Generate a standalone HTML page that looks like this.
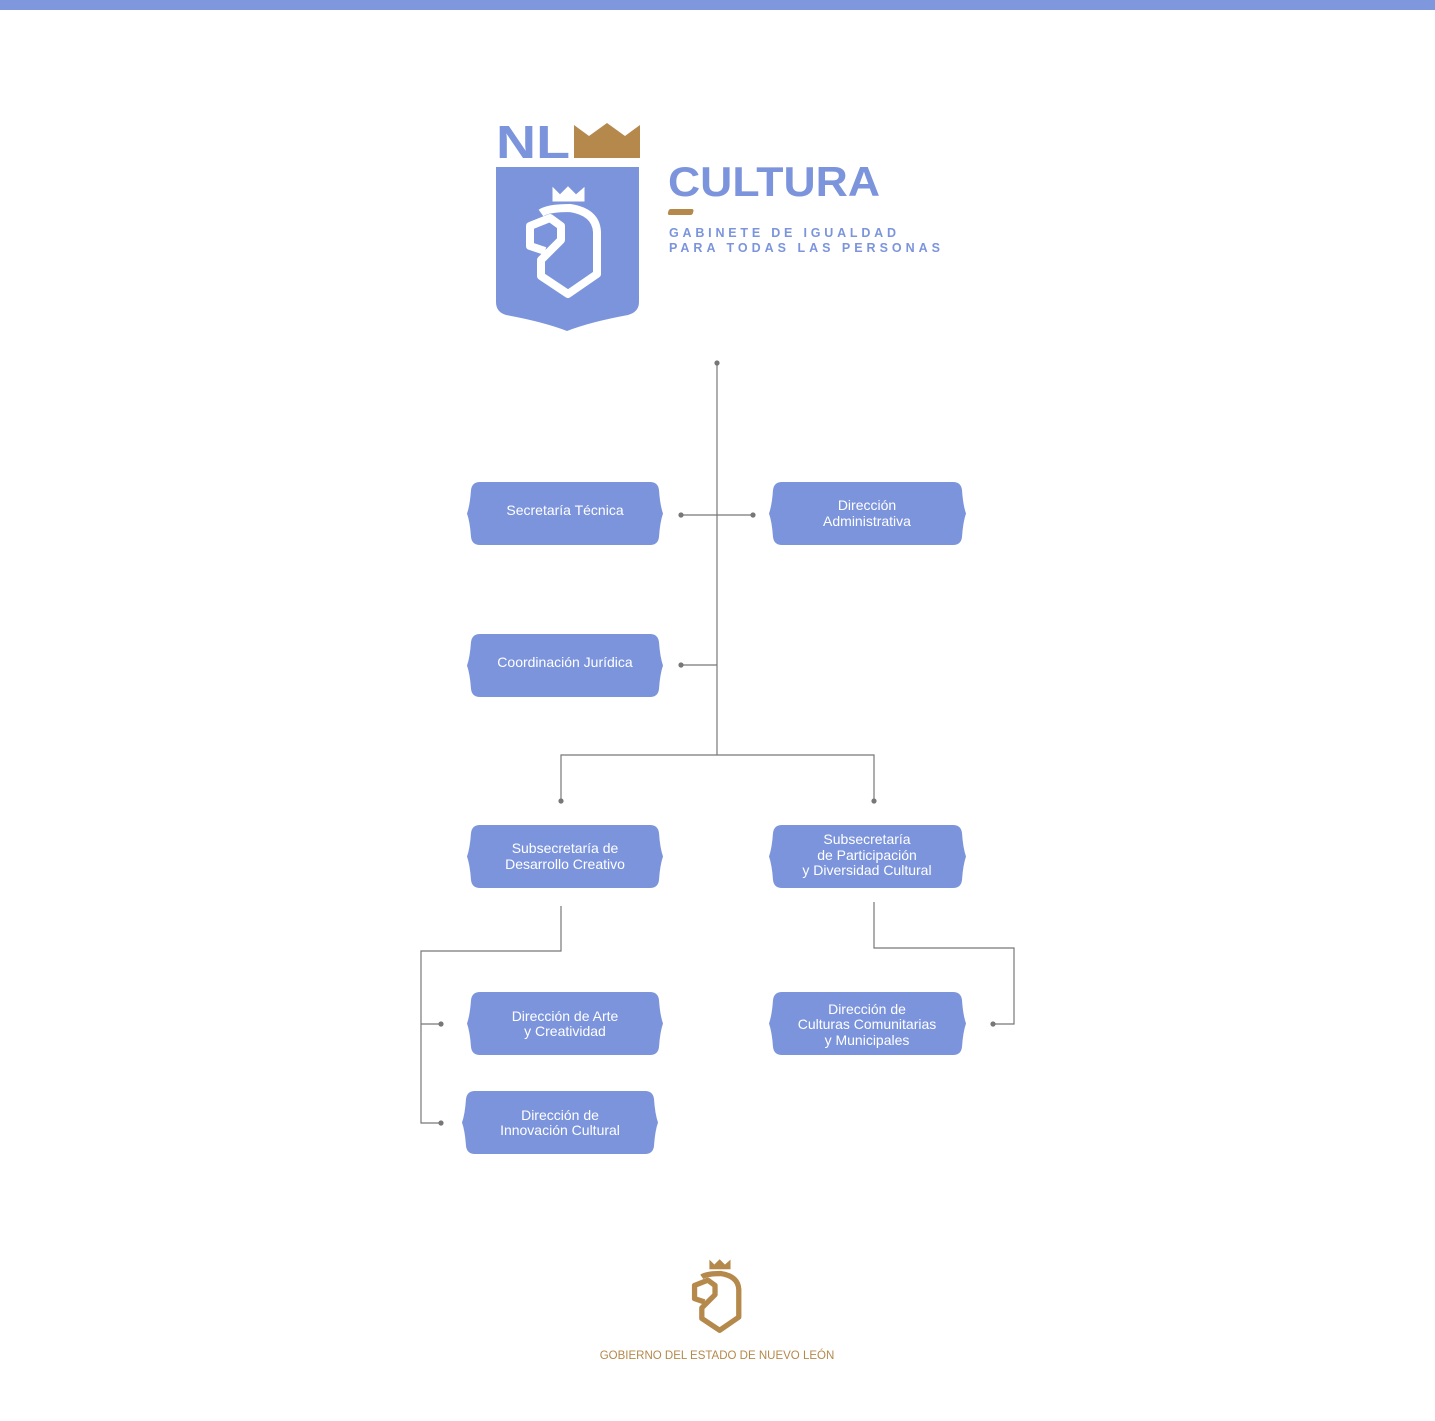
<!DOCTYPE html>
<html><head><meta charset="utf-8"><style>
html,body{margin:0;padding:0;background:#fff}
body{width:1435px;height:1416px;overflow:hidden;font-family:"Liberation Sans",sans-serif}
</style></head><body>
<svg width="1435" height="1416" viewBox="0 0 1435 1416" xmlns="http://www.w3.org/2000/svg">
<defs>
<g id="lion">
<path d="M553,188 L553,201 L584,201 L584,188 L576,195 L568,187 L560,195 Z" />
<path d="M541,213 Q548,208 570,208 Q596,212 597,232 L597,274 L568,294 L541,276 L541,260 L561,240 L561,226 L550,218 L530,226 L530,246 L545,251" fill="none" stroke-width="8" stroke-linejoin="round"/>
</g>
</defs>
<rect x="0" y="0" width="1435" height="10" fill="#7f98dd"/>
<!-- logo -->
<text x="496" y="158" font-family="Liberation Sans, sans-serif" font-weight="bold" font-size="46" fill="#7b94dc" textLength="74" lengthAdjust="spacingAndGlyphs">NL</text>
<path d="M574,158 L574,125 L589,136 L607,123 L625,136 L640,125 L640,158 Z" fill="#b5884b"/>
<path d="M496,167 L639,167 L639,302 Q639,312 628,315 Q590,322 567,331 Q544,322 506,315 Q496,312 496,302 Z" fill="#7b94dc"/>
<g fill="#fff" stroke="#fff"><use href="#lion"/></g>
<text x="668" y="196" font-weight="bold" font-size="42" fill="#7b94dc" textLength="212" lengthAdjust="spacingAndGlyphs">CULTURA</text>
<rect x="669" y="209" width="25" height="6" rx="2" fill="#b5884b" transform="skewX(-15) translate(56,0)"/>
<text x="669" y="237" font-weight="bold" font-size="12.5" fill="#7b94dc" textLength="227" lengthAdjust="spacing">GABINETE DE IGUALDAD</text>
<text x="669" y="252" font-weight="bold" font-size="12.5" fill="#7b94dc" textLength="271" lengthAdjust="spacing">PARA TODAS LAS PERSONAS</text>
<!-- connectors -->
<g stroke="#777" stroke-width="1.2" fill="none">
<path d="M717,363 V755"/>
<path d="M681,515 H753"/>
<path d="M681,665 H717"/>
<path d="M561,801 V755 H874 V801"/>
<path d="M561,906 V951 H421 V1123 H441 M421,1024 H441"/>
<path d="M874,902 V948 H1014 V1024 H993"/>
</g>
<g fill="#777">
<circle cx="717" cy="363" r="2.6"/><circle cx="681" cy="515" r="2.6"/><circle cx="753" cy="515" r="2.6"/>
<circle cx="681" cy="665" r="2.6"/><circle cx="561" cy="801" r="2.6"/><circle cx="874" cy="801" r="2.6"/>
<circle cx="441" cy="1024" r="2.6"/><circle cx="441" cy="1123" r="2.6"/><circle cx="993" cy="1024" r="2.6"/>
</g>
<!-- boxes -->
<g fill="#7b94dc">
<path d="M480,482 H650 Q658,482 659,490 Q660,505 663,513.5 Q660,522 659,537 Q658,545 650,545 H480 Q472,545 471,537 Q470,522 467,513.5 Q470,505 471,490 Q472,482 480,482 Z"/>
<path d="M782,482 H953 Q961,482 962,490 Q963,505 966,513.5 Q963,522 962,537 Q961,545 953,545 H782 Q774,545 773,537 Q772,522 769,513.5 Q772,505 773,490 Q774,482 782,482 Z"/>
<path d="M480,634 H650 Q658,634 659,642 Q660,657 663,665.5 Q660,674 659,689 Q658,697 650,697 H480 Q472,697 471,689 Q470,674 467,665.5 Q470,657 471,642 Q472,634 480,634 Z"/>
<path d="M480,825 H650 Q658,825 659,833 Q660,848 663,856.5 Q660,865 659,880 Q658,888 650,888 H480 Q472,888 471,880 Q470,865 467,856.5 Q470,848 471,833 Q472,825 480,825 Z"/>
<path d="M782,825 H953 Q961,825 962,833 Q963,848 966,856.5 Q963,865 962,880 Q961,888 953,888 H782 Q774,888 773,880 Q772,865 769,856.5 Q772,848 773,833 Q774,825 782,825 Z"/>
<path d="M480,992 H650 Q658,992 659,1000 Q660,1015 663,1023.5 Q660,1032 659,1047 Q658,1055 650,1055 H480 Q472,1055 471,1047 Q470,1032 467,1023.5 Q470,1015 471,1000 Q472,992 480,992 Z"/>
<path d="M782,992 H953 Q961,992 962,1000 Q963,1015 966,1023.5 Q963,1032 962,1047 Q961,1055 953,1055 H782 Q774,1055 773,1047 Q772,1032 769,1023.5 Q772,1015 773,1000 Q774,992 782,992 Z"/>
<path d="M475,1091 H645 Q653,1091 654,1099 Q655,1114 658,1122.5 Q655,1131 654,1146 Q653,1154 645,1154 H475 Q467,1154 466,1146 Q465,1131 462,1122.5 Q465,1114 466,1099 Q467,1091 475,1091 Z"/>
</g>
<g fill="#fff" font-size="14" text-anchor="middle">
<text x="565" y="515">Secretaría Técnica</text>
<text x="867" y="510">Dirección</text><text x="867" y="526">Administrativa</text>
<text x="565" y="667">Coordinación Jurídica</text>
<text x="565" y="853">Subsecretaría de</text><text x="565" y="869">Desarrollo Creativo</text>
<text x="867" y="844">Subsecretaría</text><text x="867" y="860">de Participación</text><text x="867" y="875">y Diversidad Cultural</text>
<text x="565" y="1021">Dirección de Arte</text><text x="565" y="1036">y Creatividad</text>
<text x="867" y="1014">Dirección de</text><text x="867" y="1029">Culturas Comunitarias</text><text x="867" y="1045">y Municipales</text>
<text x="560" y="1120">Dirección de</text><text x="560" y="1135">Innovación Cultural</text>
</g>
<!-- footer -->
<g fill="#b5884b" stroke="#b5884b" transform="translate(717,1296) scale(0.66) translate(-564,-242)"><use href="#lion"/></g>
<text x="717" y="1359" text-anchor="middle" font-size="11.5" fill="#b5884b">GOBIERNO DEL ESTADO DE NUEVO LEÓN</text>
</svg>
</body></html>
